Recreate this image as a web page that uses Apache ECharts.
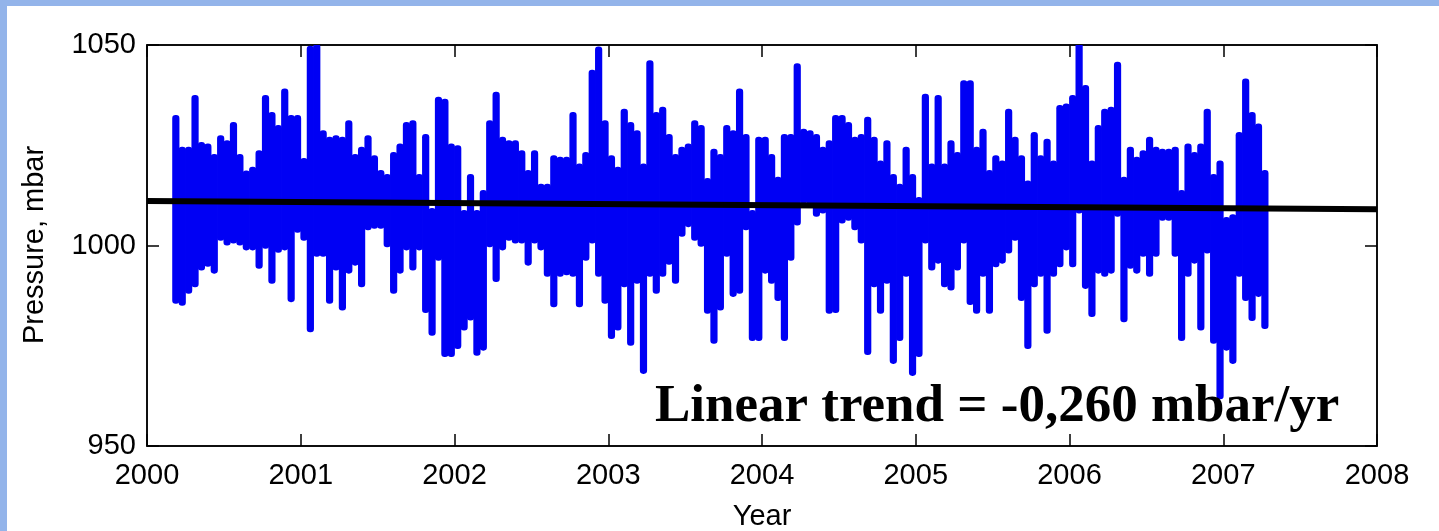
<!DOCTYPE html>
<html>
<head>
<meta charset="utf-8">
<script src="https://cdn.jsdelivr.net/npm/echarts@6/dist/echarts.min.js"></script>
<style>
  html, body { margin: 0; padding: 0; background: #93b4ea; overflow: hidden; }
  #sheet { position: absolute; left: 7px; top: 6px; right: 0; bottom: 0; background: #ffffff; }
  #chart { position: absolute; left: 0; top: 0; width: 1439px; height: 531px; }
</style>
</head>
<body>
<div id="sheet"></div>
<div id="chart"></div>
<script>
// Surface pressure record, summarised in half-month bins:
// for every bin the highest and lowest observed pressure (mbar).
const binsPerYear = 24;
const firstBin = 4;               // first bin with data: 2000 + 4/24
const highs = [
  1031.7, 1023.8, 1023.8, 1036.7, 1025.0, 1024.6, 1022.0, 1026.7, 1025.4, 1030.0,
  1022.0, 1017.9, 1018.8, 1022.9, 1036.7, 1032.5, 1029.2, 1038.3, 1031.7, 1031.7,
  1021.0, 1049.0, 1049.5, 1027.9, 1026.3, 1026.7, 1026.3, 1030.4, 1022.0, 1023.8,
  1026.7, 1021.7, 1018.0, 1017.0, 1022.5, 1024.6, 1030.0, 1030.4, 1017.0, 1027.0,
  1008.5, 1036.3, 1035.8, 1024.6, 1024.2, 1008.0, 1017.0, 1008.0, 1013.0, 1030.4,
  1037.5, 1026.3, 1025.4, 1025.4, 1022.9, 1018.0, 1022.9, 1014.6, 1014.6, 1021.7,
  1021.3, 1021.3, 1032.5, 1019.6, 1022.5, 1043.0, 1048.8, 1030.4, 1021.7, 1018.8,
  1033.3, 1030.0, 1027.9, 1019.6, 1045.4, 1032.5, 1033.8, 1027.0, 1022.0, 1023.8,
  1024.6, 1030.4, 1029.2, 1016.0, 1023.3, 1022.0, 1029.2, 1027.9, 1038.3, 1027.0,
  1008.0, 1026.3, 1026.3, 1022.0, 1016.3, 1027.0, 1027.0, 1044.6, 1028.3, 1027.9,
  1027.0, 1023.8, 1025.4, 1031.7, 1031.7, 1030.0, 1026.3, 1027.0, 1031.3, 1026.3,
  1020.4, 1025.4, 1017.0, 1014.6, 1023.8, 1017.0, 1011.3, 1037.0, 1019.6, 1036.7,
  1019.6, 1025.4, 1022.5, 1040.4, 1040.4, 1023.8, 1028.3, 1018.0, 1021.7, 1020.4,
  1033.3, 1026.3, 1021.7, 1015.4, 1027.5, 1021.7, 1025.8, 1020.4, 1034.2, 1034.6,
  1036.7, 1050.0, 1039.2, 1020.4, 1029.2, 1033.3, 1033.8, 1045.0, 1016.3, 1023.8,
  1021.3, 1022.9, 1026.3, 1023.8, 1023.3, 1023.3, 1023.8, 1013.0, 1024.6, 1022.5,
  1024.6, 1033.3, 1017.0, 1020.4, 1006.3, 1007.0, 1027.5, 1040.8, 1032.5, 1029.6,
  1018.0
];
const lows = [
  986.3, 985.8, 988.8, 990.4, 994.6, 995.5, 993.8, 1002.0, 1000.8, 1001.3,
  1000.8, 999.6, 999.6, 995.0, 1000.0, 991.3, 999.0, 999.6, 986.7, 1004.0,
  1002.0, 979.2, 998.0, 998.0, 986.3, 994.6, 984.6, 993.8, 995.8, 990.4,
  1004.6, 1005.0, 1005.0, 1000.4, 988.8, 993.8, 999.6, 994.6, 999.6, 984.0,
  978.3, 997.0, 973.0, 973.0, 975.0, 979.6, 982.1, 973.3, 974.6, 1000.4,
  991.7, 999.6, 1002.0, 1001.3, 1001.3, 995.8, 1001.3, 999.6, 993.0, 985.4,
  993.0, 993.4, 993.0, 985.4, 997.0, 1001.3, 993.0, 986.3, 977.5, 979.6,
  990.4, 975.8, 991.3, 968.8, 993.0, 988.8, 993.0, 996.0, 991.3, 1003.0,
  1005.4, 1002.0, 1000.5, 983.8, 976.3, 984.6, 998.0, 988.0, 988.8, 1004.6,
  977.0, 977.0, 993.8, 991.3, 987.0, 977.0, 997.0, 1005.8, 1011.3, 1010.4,
  1008.0, 1008.8, 983.8, 984.0, 1006.3, 1007.0, 1004.6, 1001.3, 973.5, 990.4,
  983.8, 991.3, 971.3, 977.0, 993.0, 968.3, 973.0, 1001.3, 994.6, 996.3,
  990.4, 989.6, 994.6, 1001.3, 986.0, 983.8, 993.0, 983.8, 995.4, 996.3,
  998.8, 1002.0, 987.0, 975.0, 990.4, 993.0, 978.8, 993.0, 995.4, 999.6,
  995.4, 1008.8, 990.0, 983.0, 993.8, 993.0, 993.8, 1008.0, 981.7, 995.0,
  993.8, 998.0, 993.0, 998.0, 1007.0, 1007.0, 998.0, 977.0, 993.0, 996.3,
  979.6, 998.8, 976.3, 962.5, 974.6, 971.3, 993.0, 987.0, 982.0, 988.0,
  980.0
];

// Linear fit through the record
const trendAt2000 = 1011.1;       // mbar
const trendSlope = -0.260;        // mbar per year
const trendLabel = 'Linear trend = -0,260 mbar/yr';

// Axes
const yearTicks = ['2000', '2001', '2002', '2003', '2004', '2005', '2006', '2007', '2008'];
const pressureTicks = ['950', '1000', '1050'];
const xName = 'Year';
const yName = 'Pressure, mbar';

const xMin = Number(yearTicks[0]), xMax = Number(yearTicks[yearTicks.length - 1]);
const yMin = Number(pressureTicks[0]), yMax = Number(pressureTicks[pressureTicks.length - 1]);

const binData = highs.map((h, i) => {
  const start = 2000 + (firstBin + i) / binsPerYear;
  return [start, start + 1 / binsPerYear, lows[i], h];
});
const trendData = [
  [xMin, trendAt2000],
  [xMax, trendAt2000 + trendSlope * (xMax - xMin)]
];

const dotBlue = '#0000f4';
const axisFont = { color: '#000', fontFamily: '"Liberation Sans", Arial, sans-serif', fontSize: 29 };
const frameLine = { show: true, lineStyle: { color: '#000', width: 1.5 } };
const innerTick = { show: true, inside: true, length: 12, lineStyle: { color: '#000', width: 1.5 } };

const chart = echarts.init(document.getElementById('chart'), null, { renderer: 'canvas' });
chart.setOption({
  animation: false,
  backgroundColor: 'transparent',
  grid: { left: 147, right: 62, top: 45, bottom: 85, show: true, borderColor: '#000', borderWidth: 1.5, backgroundColor: '#fff' },
  xAxis: [
    {
      type: 'value', min: xMin, max: xMax, interval: 1, position: 'bottom',
      axisLine: frameLine, axisTick: innerTick, splitLine: { show: false },
      axisLabel: Object.assign({ margin: 15, formatter: v => yearTicks.find(t => Number(t) === v) || '' }, axisFont)
    },
    {
      type: 'value', min: xMin, max: xMax, interval: 1, position: 'top',
      axisLine: frameLine, axisTick: innerTick, splitLine: { show: false }, axisLabel: { show: false }
    }
  ],
  yAxis: [
    {
      type: 'value', min: yMin, max: yMax, interval: 50, position: 'left',
      axisLine: frameLine, axisTick: innerTick, splitLine: { show: false },
      axisLabel: Object.assign({ margin: 11, formatter: v => pressureTicks.find(t => Number(t) === v) || '' }, axisFont)
    },
    {
      type: 'value', min: yMin, max: yMax, interval: 50, position: 'right',
      axisLine: frameLine, axisTick: innerTick, splitLine: { show: false }, axisLabel: { show: false }
    }
  ],
  series: [
    {
      type: 'custom',
      name: 'pressure',
      clip: true,
      data: binData,
      encode: { x: [0, 1], y: [2, 3] },
      renderItem: function (params, api) {
        // each bin is a column of overlapping dots: spread from lowest to highest reading
        const topLeft = api.coord([api.value(0), api.value(3)]);
        const bottomRight = api.coord([api.value(1), api.value(2)]);
        const r = 3.3;
        const x = topLeft[0] - 0.4;
        const w = bottomRight[0] - topLeft[0] + 0.8;
        return {
          type: 'rect',
          shape: { x: x, y: topLeft[1] - r, width: w, height: bottomRight[1] - topLeft[1] + 2 * r, r: r },
          style: { fill: dotBlue }
        };
      },
      z: 2
    },
    {
      type: 'line',
      name: 'trend',
      data: trendData,
      symbol: 'none',
      lineStyle: { color: '#000', width: 6 },
      z: 3
    }
  ],
  graphic: [
    {
      type: 'text', left: 655, top: 381, z: 10,
      style: { text: trendLabel, fill: '#000', font: 'bold 53px "Liberation Serif", "Times New Roman", serif' }
    },
    {
      type: 'text', x: 762, y: 517, z: 10,
      style: { text: xName, fill: '#000', font: '29px "Liberation Sans", Arial, sans-serif', align: 'center', verticalAlign: 'middle' }
    },
    {
      type: 'text', x: 35, y: 245, rotation: Math.PI / 2, z: 10,
      style: { text: yName, fill: '#000', font: '29px "Liberation Sans", Arial, sans-serif', align: 'center', verticalAlign: 'middle' }
    }
  ]
});
</script>
</body>
</html>
